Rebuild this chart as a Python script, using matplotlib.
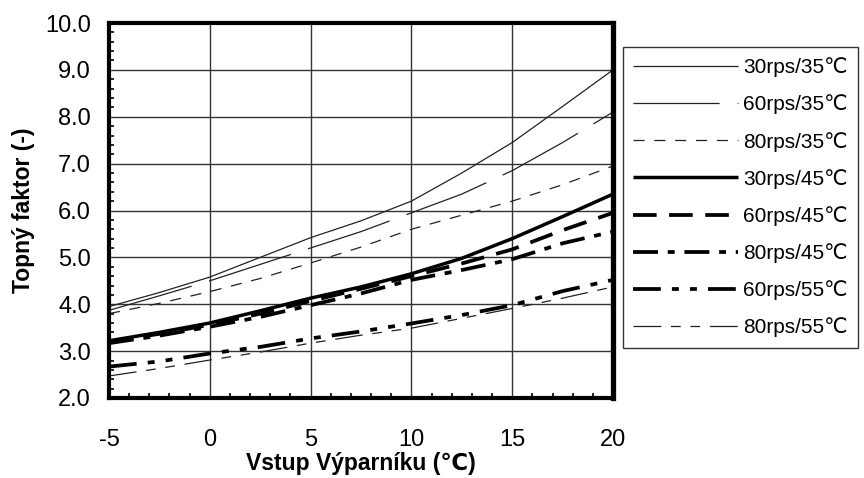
import matplotlib
matplotlib.use("Agg")
import matplotlib.pyplot as plt
from matplotlib.ticker import MultipleLocator, FixedLocator

plt.rcParams['font.family'] = ['Liberation Sans', 'DejaVu Sans']
plt.rcParams['lines.scale_dashes'] = False
plt.rcParams['axes.unicode_minus'] = False

x_vals = [-5, -2.5, 0, 2.5, 5, 7.5, 10, 12.5, 15, 17.5, 20]

cop_30_35 = [3.95, 4.25, 4.58, 5.00, 5.42, 5.78, 6.20, 6.80, 7.45, 8.22, 9.00]
cop_60_35 = [3.87, 4.18, 4.50, 4.85, 5.20, 5.55, 5.95, 6.35, 6.85, 7.45, 8.10]
cop_80_35 = [3.80, 4.02, 4.27, 4.55, 4.88, 5.22, 5.60, 5.90, 6.20, 6.55, 6.95]
cop_30_45 = [3.22, 3.40, 3.60, 3.86, 4.13, 4.37, 4.65, 4.98, 5.40, 5.87, 6.35]
cop_60_45 = [3.20, 3.37, 3.56, 3.80, 4.07, 4.33, 4.60, 4.87, 5.17, 5.58, 5.95]
cop_80_45 = [3.17, 3.33, 3.52, 3.73, 3.98, 4.23, 4.52, 4.73, 4.96, 5.30, 5.55]
cop_60_55 = [2.67, 2.78, 2.95, 3.09, 3.27, 3.42, 3.59, 3.77, 3.98, 4.28, 4.52]
cop_80_55 = [2.47, 2.63, 2.81, 2.98, 3.17, 3.34, 3.49, 3.70, 3.91, 4.13, 4.37]

labels = ['30rps/35℃', '60rps/35℃', '80rps/35℃', '30rps/45℃',
          '60rps/45℃', '80rps/45℃', '60rps/55℃', '80rps/55℃']
series = [cop_30_35, cop_60_35, cop_80_35, cop_30_45,
          cop_60_45, cop_80_45, cop_60_55, cop_80_55]

styles = [
    dict(color='#222222', lw=0.9, ls='-'),
    dict(color='#222222', lw=0.9, dashes=(62, 13)),
    dict(color='#222222', lw=0.9, dashes=(8, 7)),
    dict(color='black', lw=2.5, ls='-'),
    dict(color='black', lw=2.7, dashes=(17, 9)),
    dict(color='black', lw=2.7, dashes=(18, 7, 5, 7)),
    dict(color='black', lw=2.7, dashes=(20, 8, 5, 8, 5, 8)),
    dict(color='#222222', lw=0.9, dashes=(20, 7, 7, 7, 7, 7)),
]

fig = plt.figure(figsize=(8.64, 4.78), dpi=100)
ax = fig.add_axes([109/864, 1-398/478, 504/864, 375/478])

for y, lab, st in zip(series, labels, styles):
    ax.plot(x_vals, y, label=lab, solid_capstyle='butt', dash_capstyle='butt', **st)

ax.set_xlim(-5, 20)
ax.set_ylim(2.0, 10.0)
ax.xaxis.set_major_locator(FixedLocator([-5, 0, 5, 10, 15, 20]))
ax.yaxis.set_major_locator(MultipleLocator(1.0))
ax.xaxis.set_minor_locator(MultipleLocator(1))
ax.yaxis.set_minor_locator(MultipleLocator(0.2))
ax.set_yticklabels([f'{v:.1f}' for v in ax.get_yticks()])
ax.grid(True, which='major', color='#333333', lw=1.0)
ax.set_axisbelow(True)
for s in ax.spines.values():
    s.set_linewidth(3.0)
    s.set_color('black')
ax.spines['right'].set_linewidth(3.8)

ax.tick_params(which='major', length=0, labelsize=17)
ax.tick_params(axis='x', which='major', pad=22)
ax.tick_params(axis='y', which='major', pad=13)
ax.tick_params(which='minor', direction='in', length=3.5, width=1.2,
               bottom=True, left=True, top=False, right=False)

ax.set_xlabel('Vstup Výparníku (℃)', fontsize=16.5, fontweight='bold')
ax.set_ylabel('Topný faktor (-)', fontsize=16.5, fontweight='bold')
ax.xaxis.set_label_coords(0.5, -0.145)
ax.yaxis.set_label_coords(-0.147, 0.5)

leg = ax.legend(loc='upper left', bbox_to_anchor=(623/864, 1-47/478),
                bbox_transform=fig.transFigure, borderaxespad=0,
                fontsize=15, handlelength=5.0, handletextpad=0.25,
                labelspacing=0.83, borderpad=0.5, fancybox=False,
                frameon=True, framealpha=1, edgecolor='#333333')
leg.get_frame().set_linewidth(1.0)

fig.savefig('out.png', dpi=100)
